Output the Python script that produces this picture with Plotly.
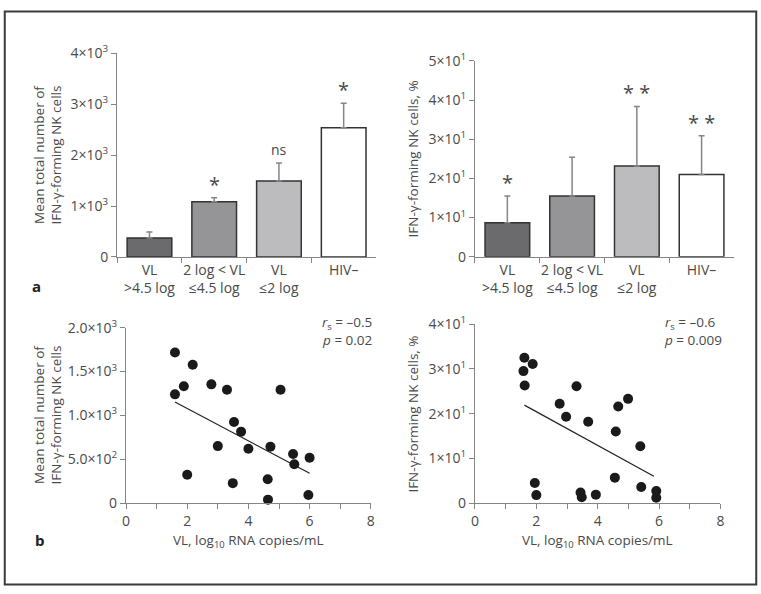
import plotly.graph_objects as go

# ---- data ----
groups = ["VL<br>>4.5 log", "2 log < VL<br>≤4.5 log", "VL<br>≤2 log", "HIV–"]
bar_colors = ["#6b6b6d", "#959597", "#bcbcbe", "#ffffff"]

count_mean = [370, 1085, 1490, 2535]
count_err = [120, 75, 355, 485]
count_sig = ["", "*", "ns", "*"]

pct_mean = [8.7, 15.5, 23.2, 21.0]
pct_err = [6.8, 9.9, 15.2, 9.9]
pct_sig = ["*", "", "**", "**"]

vl_count = [1.60, 2.18, 1.89, 1.60, 2.79, 3.30, 5.05, 3.53, 3.76, 3.00,
            4.00, 4.72, 5.46, 5.50, 6.00, 2.00, 3.49, 4.63, 4.64, 5.96]
nk_count = [1717, 1578, 1332, 1240, 1354, 1292, 1292, 925, 815, 650,
            620, 642, 561, 444, 517, 323, 228, 272, 40, 92]
count_fit_x = [1.60, 6.00]
count_fit_y = [1152, 341]

vl_pct = [1.61, 1.58, 1.88, 1.62, 3.31, 2.76, 2.97, 3.69, 4.99, 4.67, 4.59,
          5.39, 4.56, 5.42, 1.95, 2.00, 3.44, 3.48, 3.94, 5.91, 5.91]
nk_pct = [32.5, 29.5, 31.1, 26.3, 26.1, 22.2, 19.3, 18.2, 23.3, 21.6, 16.0,
          12.7, 5.7, 3.6, 4.5, 1.8, 2.4, 1.3, 1.9, 2.7, 1.2]
pct_fit_x = [1.61, 5.83]
pct_fit_y = [21.9, 6.0]

W, H = 761, 594
FONT = "Open Sans"
TXT = "#4a4a4a"
AX = "#858585"


def px_x(p):
    return p / W


def px_y(p):
    return 1 - p / H


def sci(m, e):
    return f"{m}×10<sup>{e}</sup>"


fig = go.Figure()

# top bar panels
for ax_id, means, errs in [("", count_mean, count_err), ("2", pct_mean, pct_err)]:
    fig.add_trace(go.Bar(
        x=groups, y=means,
        marker=dict(color=bar_colors, line=dict(color="#333333", width=1.5)),
        width=0.69,
        error_y=dict(type="data", symmetric=False, array=errs, arrayminus=[0] * 4,
                     color=AX, thickness=1.5, width=3),
        xaxis="x" + ax_id, yaxis="y" + ax_id, showlegend=False,
    ))

# bottom scatter panels
for ax_id, xs, ys, fx, fy in [("3", vl_count, nk_count, count_fit_x, count_fit_y),
                              ("4", vl_pct, nk_pct, pct_fit_x, pct_fit_y)]:
    fig.add_trace(go.Scatter(
        x=fx, y=fy, mode="lines", line=dict(color="#222222", width=1.2),
        xaxis="x" + ax_id, yaxis="y" + ax_id, showlegend=False,
    ))
    fig.add_trace(go.Scatter(
        x=xs, y=ys, mode="markers", marker=dict(color="#1a1a1a", size=10),
        xaxis="x" + ax_id, yaxis="y" + ax_id, showlegend=False, cliponaxis=False,
    ))

axis_common = dict(
    showline=True, linecolor=AX, linewidth=1.2, ticks="outside", ticklen=5,
    tickcolor=AX, tickwidth=1.2, showgrid=False, zeroline=False, tickangle=0,
    tickfont=dict(family=FONT, size=14, color=TXT),
)

layout = dict(
    width=W, height=H, margin=dict(l=0, r=0, t=0, b=0),
    plot_bgcolor="white", paper_bgcolor="white",
    bargap=0.31,
    xaxis=dict(axis_common, domain=[px_x(114.3), px_x(376)], anchor="y",
               type="category", range=[-0.5, 3.5], tickson="boundaries"),
    yaxis=dict(axis_common, domain=[px_y(254.5), px_y(43.7)], anchor="x",
               range=[0, 4000], tickvals=[0, 1000, 2000, 3000, 4000],
               ticktext=["0"] + [sci(i, 3) for i in range(1, 5)]),
    xaxis2=dict(axis_common, domain=[px_x(476), px_x(737.7)], anchor="y2",
                type="category", range=[-0.5, 3.5], tickson="boundaries"),
    yaxis2=dict(axis_common, domain=[px_y(254.3), px_y(51.7)], anchor="x2",
                range=[0, 50], tickvals=[0, 10, 20, 30, 40, 50],
                ticktext=["0"] + [sci(i, 1) for i in range(1, 6)]),
    xaxis3=dict(axis_common, domain=[px_x(123.3), px_x(370.7)], anchor="y3",
                range=[0, 8], tickvals=list(range(9)),
                ticktext=["0", "", "2", "", "4", "", "6", "", "8"]),
    yaxis3=dict(axis_common, domain=[px_y(509.3), px_y(327.7)], anchor="x3",
                range=[0, 2000], tickvals=[0, 500, 1000, 1500, 2000],
                ticktext=["0", sci("5.0", 2), sci("1.0", 3), sci("1.5", 3), sci("2.0", 3)]),
    xaxis4=dict(axis_common, domain=[px_x(476), px_x(724)], anchor="y4",
                range=[0, 8], tickvals=list(range(9)),
                ticktext=["0", "", "2", "", "4", "", "6", "", "8"]),
    yaxis4=dict(axis_common, domain=[px_y(509.3), px_y(324)], anchor="x4",
                range=[0, 40], tickvals=[0, 10, 20, 30, 40],
                ticktext=["0"] + [sci(i, 1) for i in range(1, 5)]),
)
fig.update_layout(**layout)

txt = dict(family=FONT, size=13.5, color=TXT)
ann = []

# significance marks
for ax_id, means, errs, sig in [("", count_mean, count_err, count_sig),
                                ("2", pct_mean, pct_err, pct_sig)]:
    for g, m, e, s in zip(groups, means, errs, sig):
        if not s:
            continue
        star = "*" in s
        ann.append(dict(
            x=g, y=m + e, xref="x" + ax_id, yref="y" + ax_id, text=s.replace("**", "* *"),
            showarrow=False, xanchor="center", yanchor="bottom", yshift=-2 if star else 2,
            font=dict(family=FONT, size=20 if star else 14, color=TXT),
        ))


def paper_text(x, y, text, angle=0, xanchor="center", align="center", font=txt):
    return dict(x=px_x(x), y=px_y(y), xref="paper", yref="paper", text=text,
                textangle=angle, xanchor=xanchor, yanchor="middle", align=align,
                showarrow=False, font=font)


ann += [
    # axis titles
    paper_text(44, 149, "Mean total number of<br>IFN-γ-forming NK cells", -90),
    paper_text(413, 153, "IFN-γ-forming NK cells, %", -90),
    paper_text(44, 418, "Mean total number of<br>IFN-γ-forming NK cells", -90),
    paper_text(413, 417, "IFN-γ-forming NK cells, %", -90),
    paper_text(247, 548, "VL, log<sub>10</sub> RNA copies/mL"),
    paper_text(600, 548, "VL, log<sub>10</sub> RNA copies/mL"),
    # correlation stats
    paper_text(374, 331, "<i>r</i><sub>s</sub> = –0.5<br><i>p</i> = 0.02",
               xanchor="right", align="right"),
    paper_text(665, 331, "<i>r</i><sub>s</sub> = –0.6<br><i>p</i> = 0.009",
               xanchor="left", align="left"),
    # panel letters
    paper_text(26, 285, "<b>a</b>", xanchor="left", font=dict(family=FONT, size=15, color="#222")),
    paper_text(29, 547, "<b>b</b>", xanchor="left", font=dict(family=FONT, size=15, color="#222")),
]
fig.update_layout(annotations=ann)

fig.add_shape(type="rect", xref="paper", yref="paper", x0=0.001, y0=0.001, x1=0.999, y1=0.999,
              line=dict(color="#3a3a3a", width=2))

page_fix = (
    "document.documentElement.style.margin='0';"
    "document.body.style.margin='0';document.body.style.overflow='hidden';"
    "var d=document.getElementById('{plot_id}');"
    "d.style.position='fixed';d.style.left='0';d.style.top='0';"
)
fig.write_html("out.html", config={"displayModeBar": False}, post_script=page_fix)
